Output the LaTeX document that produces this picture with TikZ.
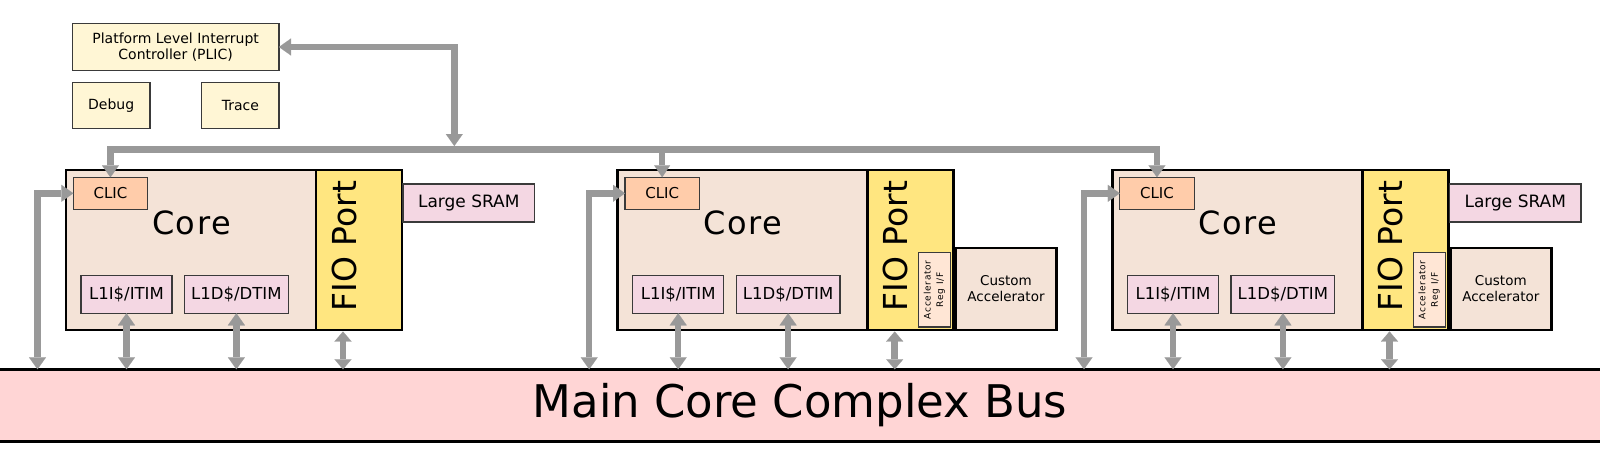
\documentclass[tikz,border=0pt]{standalone}
\usepackage{fontspec}
\setmainfont{DejaVu Sans}
\newfontfamily\spacedfont{DejaVu Sans}[LetterSpace=8]
\newfontfamily\corefont{DejaVu Sans}[LetterSpace=5]
\usetikzlibrary{arrows.meta}
\definecolor{creamfill}{HTML}{FFF6D5}
\definecolor{corefill}{HTML}{F4E3D7}
\definecolor{fiofill}{HTML}{FFE680}
\definecolor{clicfill}{HTML}{FFCCAA}
\definecolor{memfill}{HTML}{F4D7E3}
\definecolor{regfill}{HTML}{FFE6D5}
\definecolor{busfill}{HTML}{FFD5D5}
\definecolor{arrowgray}{HTML}{999999}
\definecolor{edgegray}{HTML}{3A3A3A}
\begin{document}
\begin{tikzpicture}[x=1pt,y=-1pt,
  every node/.style={inner sep=0pt, outer sep=0pt},
  thinbox/.style={draw=edgegray, line width=1.2pt, anchor=north west, align=center},
  heavybox/.style={draw=black, line width=2.8pt, anchor=north west, align=center},
  conn/.style={draw=arrowgray, line width=6.5pt},
  bi/.style={arrows={Triangle[width=17pt,length=12pt,line width=0.1pt]-Triangle[width=17pt,length=12pt,line width=0.1pt]}},
  onehead/.style={arrows={-Triangle[width=16pt,length=12pt,line width=0.1pt]}},
  bismall/.style={arrows={Triangle[width=17pt,length=10pt,line width=0.1pt]-Triangle[width=17pt,length=10pt,line width=0.1pt]}}
]
\useasboundingbox (0,0) rectangle (1600,455);
\fill[white] (0,0) rectangle (1600,455);

% top-level blocks
\node[thinbox, fill=creamfill, minimum width=206.7pt, minimum height=47.4pt, font=\fontsize{14}{16.5}\selectfont] (plic) at (72.3,23.3) {Platform Level Interrupt\\Controller (PLIC)};
\node[thinbox, fill=creamfill, minimum width=77.7pt, minimum height=46.4pt, font=\fontsize{14}{16.5}\selectfont] (debug) at (72.3,82.3) {Debug};
\node[thinbox, fill=creamfill, minimum width=77.3pt, minimum height=46.4pt, font=\fontsize{14}{16.5}\selectfont] (trace) at (201.7,82.3) {Trace};

% bus
\node[draw=black, line width=3pt, fill=busfill, anchor=north west, minimum width=1610pt, minimum height=71.7pt, font=\fontsize{45}{54}\selectfont] (bus) at (-5,369.3) {Main Core Complex Bus};

% cores
\foreach \i/\ox in {1/66,2/617.7,3/1112.5}{
  \node[heavybox, fill=corefill, minimum width=250pt, minimum height=160pt] (core\i) at (\ox,170) {};
  \node[heavybox, fill=fiofill, minimum width=86pt, minimum height=160pt] (fio\i) at (\ox+250,170) {};
  \node[font=\corefont\fontsize{32}{38}\selectfont] (coret\i) at (\ox+125.5,223) {Core};
  \node[font=\fontsize{33}{40}\selectfont, rotate=90] (fiot\i) at (\ox+278,246) {FIO Port};
  \node[thinbox, fill=clicfill, minimum width=74.3pt, minimum height=32pt, font=\fontsize{15}{18}\selectfont] (clic\i) at (\ox+7.3,177.3) {CLIC};
  \node[thinbox, fill=memfill, minimum width=91pt, minimum height=38pt, font=\fontsize{16.5}{20}\selectfont] (l1i\i) at (\ox+15,275.3) {L1I\$/ITIM};
  \node[thinbox, fill=memfill, minimum width=103.8pt, minimum height=38pt, font=\fontsize{16.5}{20}\selectfont] (l1d\i) at (\ox+118.5,275.3) {L1D\$/DTIM};
  \coordinate (lt\i) at (\ox-28.5,193.3);
  \coordinate (fa\i) at (\ox+277,331.5);
}

\foreach \i/\ox in {1/66,3/1112.5}{
  \node[thinbox, fill=memfill, minimum width=131.5pt, minimum height=38pt, font=\fontsize{17}{20}\selectfont] (sram\i) at (\ox+337,184) {Large SRAM};
}
\foreach \i/\ox in {2/617.7,3/1112.5}{
  \node[heavybox, fill=corefill, minimum width=101.4pt, minimum height=82pt, font=\fontsize{13.5}{16}\selectfont] (cacc\i) at (\ox+337.6,248) {Custom\\Accelerator};
  \node[thinbox, fill=regfill, minimum width=32pt, minimum height=74.3pt] (reg\i) at (\ox+300.6,252.7) {};
  \node[rotate=90, align=center, font=\spacedfont\fontsize{9}{12.5}\selectfont] (regt\i) at (reg\i.center) {Accelerator\\Reg I/F};
}

% connectors
\coordinate (dist) at (0,149.3);
\coordinate (pj) at (454.3,146);
\draw[conn, bi] (plic.east) -| (pj);
\draw[conn, bi] (clic1.north) -- (clic1.north |- dist) -- (clic3.north |- dist) -- (clic3.north);
\draw[conn, onehead] (clic2.north |- dist) -- (clic2.north);
\foreach \i in {1,2,3}{
  \draw[conn, bi] (clic\i.west) -- (lt\i) -- (lt\i |- bus.north);
  \draw[conn, bi] (l1i\i.south) -- (l1i\i.south |- bus.north);
  \draw[conn, bi] (l1d\i.south) -- (l1d\i.south |- bus.north);
  \draw[conn, bismall] (fa\i) -- (fa\i |- bus.north);
}
\end{tikzpicture}
\end{document}
